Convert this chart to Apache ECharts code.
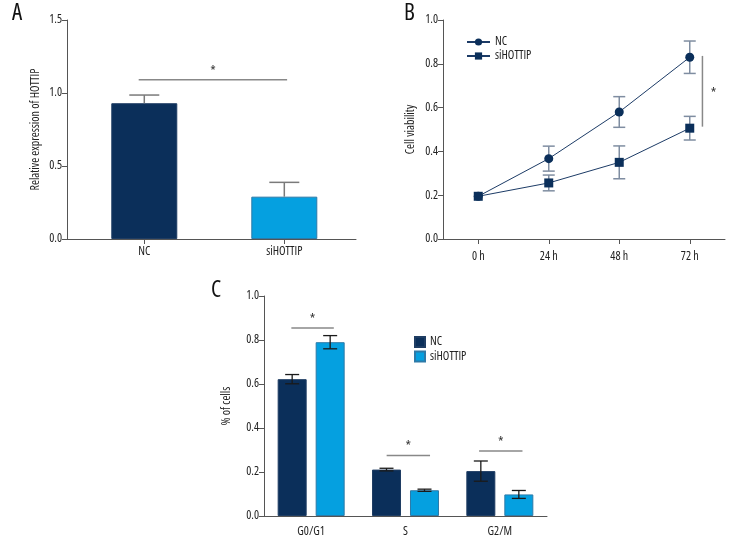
<!DOCTYPE html>
<html><head><meta charset="utf-8">
<script src="https://cdn.jsdelivr.net/npm/echarts@6/dist/echarts.min.js"></script>
<style>html,body{margin:0;padding:0;background:#fff}#c{width:756px;height:552px}</style>
</head><body><div id="c"></div>
<script>
const FONT = '"Open Sans","Roboto Condensed",sans-serif';
const STRETCH = 'condensed';
const FS = 12;
// ---- Panel A data ----
const aCategories = ['NC', 'siHOTTIP'];
const aMeans = [0.93, 0.29];
const aErrors = [0.056, 0.098];
const aSig = [[-0.04, 1.02, 1.09]];          // [xStart, xEnd, y]
// ---- Panel B data ----
const bTimes = ['0 h', '24 h', '48 h', '72 h'];
const bNC = [0.195, 0.367, 0.580, 0.830];
const bNCErr = [0, 0.057, 0.070, 0.074];
const bSi = [0.195, 0.256, 0.350, 0.506];
const bSiErr = [0, 0.036, 0.075, 0.054];
const bSig = [[3, 0.18, 0.513, 0.836]];       // [category, band offset, yLow, yHigh]
// ---- Panel C data ----
const cPhases = ['G0/G1', 'S', 'G2/M'];
const cNC = [0.622, 0.211, 0.204];
const cNCErr = [0.021, 0.006, 0.046];
const cSi = [0.790, 0.117, 0.098];
const cSiErr = [0.030, 0.005, 0.018];
const cSig = [[0, -0.21, 0.24, 0.855], [1, -0.20, 0.26, 0.275], [2, -0.22, 0.24, 0.295]]; // [cat, off0, off1, y]

const NAVY = '#0b2f5a', CYAN = '#05a0e0', AXIS = '#555', TXT = '#222';
const chart = echarts.init(document.getElementById('c'), null, {renderer: 'canvas'});
const ts = (extra) => Object.assign({fontFamily: FONT, fontWeight: STRETCH, fontSize: FS, color: TXT}, extra || {});

const yAxisBase = (gi, max, interval, name, gap) => ({
  gridIndex: gi, type: 'value', min: 0, max: max, interval: interval,
  name: name, nameLocation: 'middle', nameGap: gap, nameRotate: 90,
  nameTextStyle: ts(),
  axisLine: {show: true, onZero: false, lineStyle: {color: AXIS, width: 1}},
  axisTick: {show: true, length: 5, lineStyle: {color: AXIS}},
  axisLabel: ts({margin: 5, formatter: v => v.toFixed(1)}),
  splitLine: {show: false}
});

function sigText(api, x, y, txt) {
  return {type: 'text', x: x, y: y, style: {text: txt, fill: '#333', font: STRETCH + ' 14px ' + FONT, align: 'center', verticalAlign: 'middle'}};
}

const option = {
  animation: false,
  backgroundColor: '#fff',
  graphic: [
    {type: 'text', left: 12, top: 2, style: {text: 'A', font: STRETCH + ' 23px ' + FONT, fill: '#111'}},
    {type: 'text', left: 404, top: 2, style: {text: 'B', font: STRETCH + ' 23px ' + FONT, fill: '#111'}},
    {type: 'text', left: 211, top: 279, style: {text: 'C', font: STRETCH + ' 23px ' + FONT, fill: '#111'}}
  ],
  grid: [
    {left: 67, top: 20, width: 289, height: 219},
    {left: 443, top: 20, width: 282, height: 219},
    {left: 264, top: 296, width: 283, height: 220}
  ],
  legend: [
    {orient: 'vertical', left: 466, top: 36, padding: 0, itemWidth: 23, itemHeight: 9, itemGap: 2,
     data: ['NC', 'siHOTTIP'], textStyle: ts({lineHeight: 12})},
    {orient: 'vertical', left: 414, top: 336, padding: 0, itemWidth: 10, itemHeight: 10, itemGap: 2.5, icon: 'rect',
     data: ['C:NC', 'C:siHOTTIP'], formatter: n => n.replace('C:', ''),
     textStyle: ts({lineHeight: 12})}
  ],
  xAxis: [
    {gridIndex: 0, type: 'value', min: -0.552, max: 1.512,
     axisLine: {show: true, onZero: false, lineStyle: {color: AXIS}},
     axisTick: {show: true, length: 5, customValues: [0, 1], lineStyle: {color: AXIS}},
     axisLabel: ts({customValues: [0, 1], formatter: v => aCategories[Math.round(v)] || '', margin: 7}),
     splitLine: {show: false}},
    {gridIndex: 1, type: 'category', data: bTimes, boundaryGap: true,
     axisLine: {show: true, lineStyle: {color: AXIS}},
     axisTick: {show: true, alignWithLabel: true, length: 5, lineStyle: {color: AXIS}},
     axisLabel: ts({margin: 12})},
    {gridIndex: 2, type: 'category', data: cPhases, boundaryGap: true,
     axisLine: {show: true, lineStyle: {color: AXIS}},
     axisTick: {show: false},
     axisLabel: ts({margin: 10})}
  ],
  yAxis: [
    yAxisBase(0, 1.5, 0.5, 'Relative expression of HOTTIP', 25),
    yAxisBase(1, 1.0, 0.2, 'Cell viability', 26),
    yAxisBase(2, 1.0, 0.2, '% of cells', 31)
  ],
  series: [
    {type: 'bar', xAxisIndex: 0, yAxisIndex: 0, barWidth: 66,
     data: aMeans.map((v, i) => ({value: [i, v], itemStyle: {color: i === 0 ? NAVY : CYAN, borderColor: i === 0 ? '#1f3d63' : '#2d7aa8', borderWidth: 1}}))},
    {type: 'custom', xAxisIndex: 0, yAxisIndex: 0, z: 3,
     data: aMeans.map((v, i) => [i, v, v + aErrors[i]]),
     renderItem: (p, api) => {
       const a = api.coord([api.value(0), api.value(1)]), b = api.coord([api.value(0), api.value(2)]);
       const st = {stroke: '#7a7a7a', lineWidth: 1.5};
       return {type: 'group', children: [
         {type: 'line', shape: {x1: a[0], y1: a[1], x2: b[0], y2: b[1]}, style: st},
         {type: 'line', shape: {x1: b[0] - 15, y1: b[1], x2: b[0] + 15, y2: b[1]}, style: st}
       ]};
     }},
    {type: 'custom', xAxisIndex: 0, yAxisIndex: 0, data: aSig,
     renderItem: (p, api) => {
       const a = api.coord([api.value(0), api.value(2)]), b = api.coord([api.value(1), api.value(2)]);
       return {type: 'group', children: [
         {type: 'line', shape: {x1: a[0], y1: a[1], x2: b[0], y2: b[1]}, style: {stroke: '#888', lineWidth: 1.5}},
         sigText(api, (a[0] + b[0]) / 2, a[1] - 8, '*')
       ]};
     }},
    ...[[bNC, bNCErr], [bSi, bSiErr]].map(([m, e]) => ({
      type: 'custom', xAxisIndex: 1, yAxisIndex: 1, z: 1,
      data: m.map((v, i) => [i, v - e[i], v + e[i]]).filter((d, i) => e[i] > 0),
      renderItem: (p, api) => {
        const a = api.coord([api.value(0), api.value(1)]), b = api.coord([api.value(0), api.value(2)]);
        const st = {stroke: '#7f8da1', lineWidth: 1.5};
        return {type: 'group', children: [
          {type: 'line', shape: {x1: a[0], y1: a[1], x2: b[0], y2: b[1]}, style: st},
          {type: 'line', shape: {x1: a[0] - 6, y1: a[1], x2: a[0] + 6, y2: a[1]}, style: st},
          {type: 'line', shape: {x1: b[0] - 6, y1: b[1], x2: b[0] + 6, y2: b[1]}, style: st}
        ]};
      }
    })),
    {type: 'line', name: 'NC', xAxisIndex: 1, yAxisIndex: 1, data: bNC, z: 3,
     symbol: 'circle', symbolSize: 9, itemStyle: {color: NAVY}, lineStyle: {color: '#1c3b66', width: 1}},
    {type: 'line', name: 'siHOTTIP', xAxisIndex: 1, yAxisIndex: 1, data: bSi, z: 3,
     symbol: 'rect', symbolSize: 9, itemStyle: {color: NAVY}, lineStyle: {color: '#1c3b66', width: 1}},
    {type: 'custom', xAxisIndex: 1, yAxisIndex: 1, data: bSig,
     renderItem: (p, api) => {
       const bw = api.size([1, 0])[0];
       const a = api.coord([api.value(0), api.value(2)]), b = api.coord([api.value(0), api.value(3)]);
       const x = a[0] + api.value(1) * bw;
       return {type: 'group', children: [
         {type: 'line', shape: {x1: x, y1: a[1], x2: x, y2: b[1]}, style: {stroke: '#888', lineWidth: 1.5}},
         sigText(api, x + 11, (a[1] + b[1]) / 2 + 3, '*')
       ]};
     }},
    {type: 'bar', name: 'C:NC', xAxisIndex: 2, yAxisIndex: 2, data: cNC, barWidth: 29, barGap: '31%',
     itemStyle: {color: NAVY, borderColor: '#1f3d63', borderWidth: 1}},
    {type: 'bar', name: 'C:siHOTTIP', xAxisIndex: 2, yAxisIndex: 2, data: cSi, barWidth: 29, barGap: '31%',
     itemStyle: {color: CYAN, borderColor: '#2d7aa8', borderWidth: 1}},
    ...[[cNC, cNCErr, -19], [cSi, cSiErr, 19]].map(([m, e, off]) => ({
      type: 'custom', xAxisIndex: 2, yAxisIndex: 2, z: 3,
      data: m.map((v, i) => [i, v - e[i], v + e[i]]),
      renderItem: (p, api) => {
        const a = api.coord([api.value(0), api.value(1)]), b = api.coord([api.value(0), api.value(2)]);
        const x = a[0] + off;
        const st = {stroke: '#1a1a1a', lineWidth: 1.3};
        return {type: 'group', children: [
          {type: 'line', shape: {x1: x, y1: a[1], x2: x, y2: b[1]}, style: st},
          {type: 'line', shape: {x1: x - 7, y1: a[1], x2: x + 7, y2: a[1]}, style: st},
          {type: 'line', shape: {x1: x - 7, y1: b[1], x2: x + 7, y2: b[1]}, style: st}
        ]};
      }
    })),
    {type: 'custom', xAxisIndex: 2, yAxisIndex: 2, data: cSig,
     renderItem: (p, api) => {
       const bw = api.size([1, 0])[0];
       const c = api.coord([api.value(0), api.value(3)]);
       const x0 = c[0] + api.value(1) * bw, x1 = c[0] + api.value(2) * bw;
       return {type: 'group', children: [
         {type: 'line', shape: {x1: x0, y1: c[1], x2: x1, y2: c[1]}, style: {stroke: '#888', lineWidth: 1.5}},
         sigText(api, (x0 + x1) / 2, c[1] - 8, '*')
       ]};
     }}
  ]
};
chart.setOption(option);
</script></body></html>
